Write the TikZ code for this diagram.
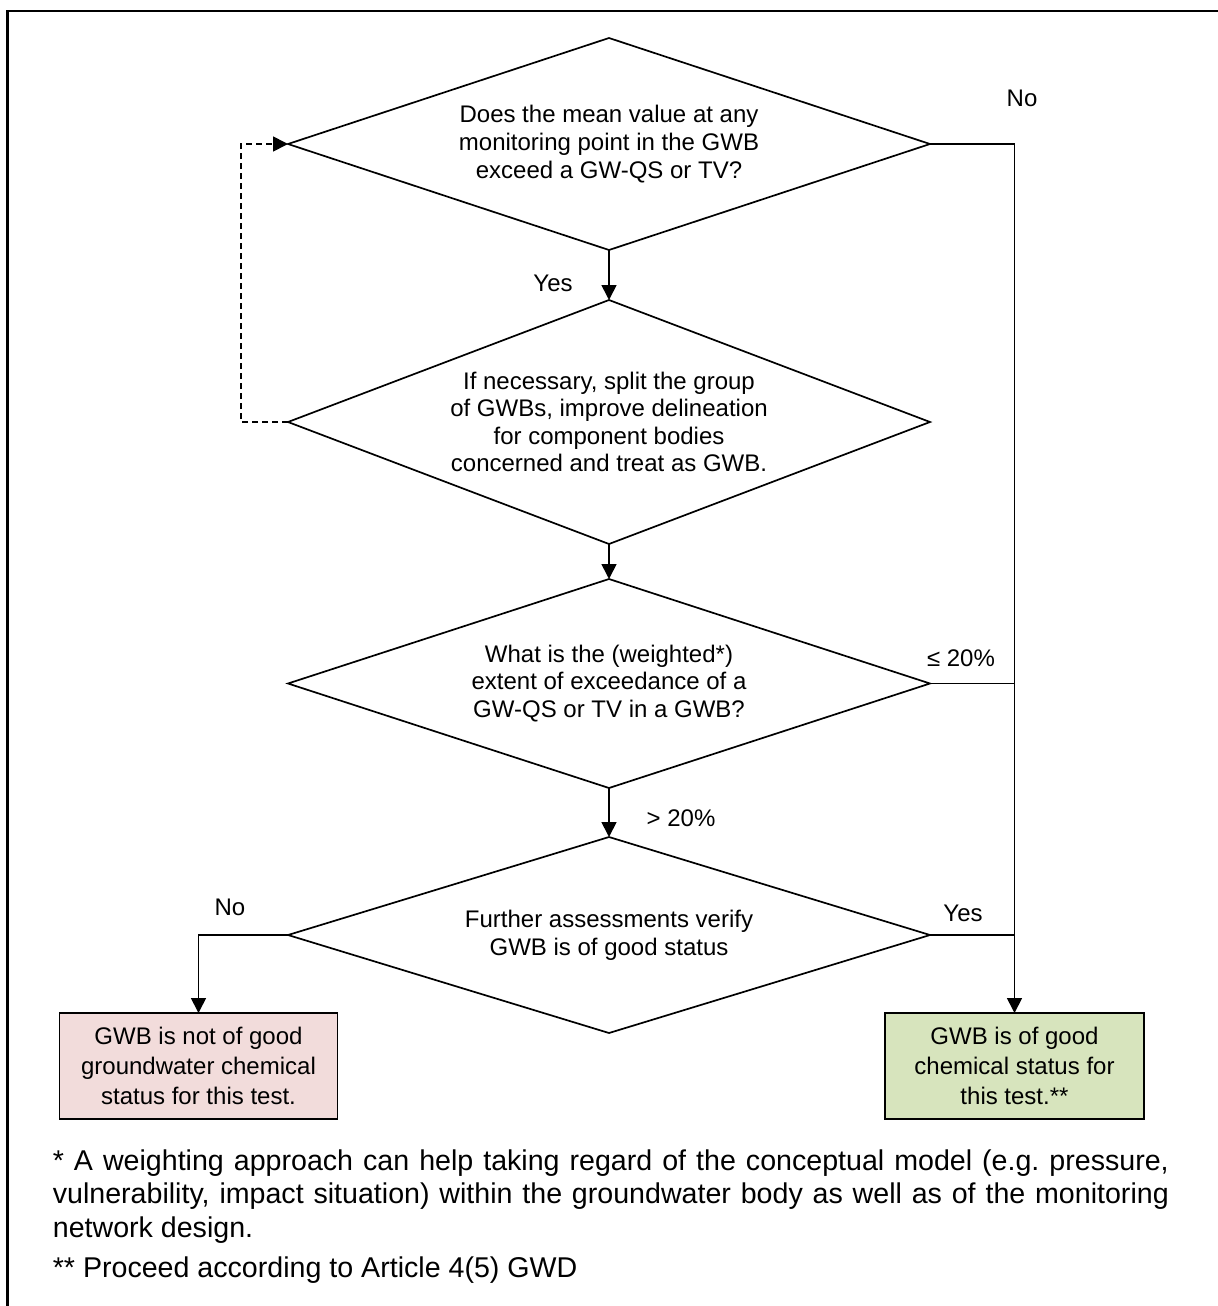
\documentclass[tikz,border=0pt]{standalone}
\usepackage{fontspec}
\setmainfont{Liberation Sans}
\usetikzlibrary{shapes.geometric,arrows.meta}
\definecolor{badred}{HTML}{F2DCDB}
\definecolor{goodgreen}{HTML}{D7E4BD}
\hyphenpenalty=10000
\exhyphenpenalty=10000
\frenchspacing

\tikzset{
  question/.style={draw,diamond,inner sep=0pt,outer sep=0pt,align=center,
    minimum width=321pt,font=\fontsize{12}{13.8}\selectfont},
  result/.style={draw,rectangle,inner sep=0pt,outer sep=0pt,align=center,
    minimum height=53pt,font=\fontsize{12}{15}\selectfont},
  answer/.style={font=\fontsize{12}{13.8}\selectfont},
  note/.style={inner sep=0pt,text width=558pt,align=justify,
    font=\fontsize{14.3}{16.8}\selectfont},
  flow/.style={-{Triangle[length=7.5pt,width=7.5pt]}}
}

\begin{document}
\begin{tikzpicture}[x=0.5pt,y=-0.5pt,line width=0.85pt]
  \useasboundingbox (0,0) rectangle (1218,1306);
  \draw[line width=1.3pt] (7.5,1330) |- (1240,11);
  % questions
  \node[question,aspect=3.03,minimum height=106pt] (Q1) at (609,144) {Does the mean value at any\\monitoring point in the GWB\\exceed a GW-QS or TV?};
  \node[question,aspect=2.63,minimum height=122pt] (Q2) at (609,422) {If necessary, split the group\\of GWBs, improve delineation\\for component bodies\\concerned and treat as GWB.};
  \node[question,aspect=3.07,minimum height=104.5pt] (Q3) at (609,683.5) {What is the (weighted*)\\extent of exceedance of a\\GW-QS or TV in a GWB?};
  \node[question,aspect=3.28,minimum height=98pt] (Q4) at (609,935) {Further assessments verify\\GWB is of good status};
  % outcomes
  \node[result,fill=badred,minimum width=139pt] (bad) at (198.5,1066) {GWB is not of good\\groundwater chemical\\status for this test.};
  \node[result,fill=goodgreen,minimum width=129.5pt] (good) at (1014.5,1066) {GWB is of good\\chemical status for\\this test.**};
  \coordinate (loop) at (241,422);
  % connectors
  \draw[flow] (Q1) -- (Q2);
  \draw[flow] (Q2) -- (Q3);
  \draw[flow] (Q3) -- (Q4);
  \draw[flow] (Q1.east) -| (good);
  \draw (Q3.east) -- (Q3.east -| good);
  \draw (Q4.east) -- (Q4.east -| good);
  \draw[flow] (Q4.west) -| (bad);
  \draw[flow,dash pattern=on 3pt off 2pt] (Q2.west) -- (loop) |- (Q1.west);
  % answers
  \node[answer] (yes1) at (553,283) {Yes};
  \node[answer] (no1) at (1022,98) {No};
  \node[answer] (le20) at (961,658) {≤ 20\%};
  \node[answer] (gt20) at (681,818) {> 20\%};
  \node[answer] (no2) at (230,907) {No};
  \node[answer] (yes2) at (963,913) {Yes};
  % footnotes
  \node[note,anchor=north west] (fn1) at (52,1148.5) {* A weighting approach can help taking regard of the conceptual model (e.g. pressure, vulnerability, impact situation) within the groundwater body as well as of the monitoring network design.};
  \node[note,anchor=north west] (fn2) at (52,1255.5) {** Proceed according to Article 4(5) GWD};
\end{tikzpicture}
\end{document}
